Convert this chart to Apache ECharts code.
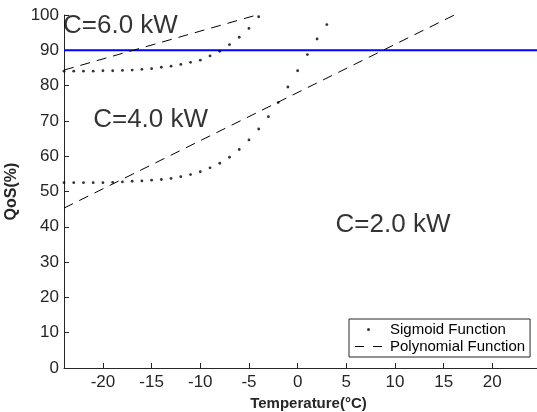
<!DOCTYPE html>
<html>
<head>
<meta charset="utf-8">
<script src="https://cdn.jsdelivr.net/npm/echarts@6/dist/echarts.min.js"></script>
<style>
  html, body { margin: 0; padding: 0; background: #fff; }
  #chart { width: 537px; height: 412px; }
</style>
</head>
<body>
<div id="chart"></div>
<script>
// Temperature axis (°C) and QoS tick labels
const xTicks = [-20, -15, -10, -5, 0, 5, 10, 15, 20];
const yTicks = [0, 10, 20, 30, 40, 50, 60, 70, 80, 90, 100];

// Sigmoid fit, C = 6.0 kW: temperature -> QoS (%)
const sigTemp6 = [-24, -23, -22, -21, -20, -19, -18, -17, -16, -15, -14, -13, -12, -11, -10, -9, -8, -7, -6, -5, -4];
const sigQoS6 = [84.1, 84.1, 84.1, 84.1, 84.2, 84.2, 84.3, 84.4, 84.6, 84.8, 85.2, 85.5, 86.0, 86.6, 87.2, 88.4, 89.7, 91.6, 93.7, 96.2, 99.5];

// Sigmoid fit, C = 4.0 kW
const sigTemp4 = [-24, -23, -22, -21, -20, -19, -18, -17, -16, -15, -14, -13, -12, -11, -10, -9, -8, -7, -6, -5, -4, -3, -2, -1, 0, 1, 2, 3];
const sigQoS4 = [52.5, 52.5, 52.5, 52.5, 52.5, 52.6, 52.7, 52.9, 53.0, 53.2, 53.4, 53.7, 54.2, 54.8, 55.6, 56.7, 58.0, 59.7, 61.9, 64.6, 67.7, 71.2, 75.2, 79.6, 84.2, 88.8, 93.2, 97.3];

// Polynomial fits (end points of each fitted segment)
const polyTemp6 = [-24, -4.2];
const polyQoS6 = [84.4, 100];
const polyTemp4 = [-24, 16.1];
const polyQoS4 = [45.3, 100];

// QoS requirement
const qosTarget = 90;
const targetSpan = [-24, 25];

// Capacity annotations (anchored at the left edge of each label)
const capLabels = ['C=6.0 kW', 'C=4.0 kW', 'C=2.0 kW'];
const capTemp = [-24.1, -21.0, 3.9];
const capQoS = [96.8, 70.2, 40.5];

const zip = (xs, ys) => xs.map((x, i) => [x, ys[i]]);

const axisColor = '#262626';
const fontFamily = 'Liberation Sans, Arial, sans-serif';
const tickFont = { fontFamily: fontFamily, fontSize: 17, color: axisColor };

const chart = echarts.init(document.getElementById('chart'), null, { renderer: 'canvas' });

chart.setOption({
  animation: false,
  backgroundColor: '#ffffff',
  grid: { left: 64, top: 15, right: -4, bottom: 44, containLabel: false, outerBoundsMode: 'none' },
  legend: {
    orient: 'vertical',
    left: 349,
    top: 319,
    data: [
      { name: 'Sigmoid Function', icon: 'circle' },
      { name: 'Polynomial Function', icon: 'path://M0,0 H9 V1 H0 Z M18,0 H27 V1 H18 Z' }
    ],
    itemWidth: 27,
    itemHeight: 3,
    itemGap: 2,
    padding: [3, 5, 3, 6],
    borderColor: axisColor,
    borderWidth: 1,
    backgroundColor: '#ffffff',
    selectedMode: false,
    textStyle: { fontFamily: fontFamily, fontSize: 15, color: '#000', padding: [0, 0, 0, 3] }
  },
  xAxis: {
    type: 'value',
    min: -24,
    max: 25,
    name: 'Temperature(°C)',
    nameLocation: 'middle',
    nameGap: 23,
    nameTextStyle: { fontFamily: fontFamily, fontSize: 15, fontWeight: 'bold', color: axisColor, padding: [0, 0, 0, 12] },
    axisLine: { show: true, onZero: false, lineStyle: { color: axisColor, width: 1 } },
    axisTick: { show: true, inside: true, length: 5, customValues: xTicks, lineStyle: { color: axisColor } },
    axisLabel: Object.assign({ margin: 6, customValues: xTicks }, tickFont),
    splitLine: { show: false }
  },
  yAxis: {
    type: 'value',
    min: yTicks[0],
    max: yTicks[yTicks.length - 1],
    interval: 10,
    name: 'QoS(%)',
    nameLocation: 'middle',
    nameGap: 40,
    nameTextStyle: { fontFamily: fontFamily, fontSize: 16, fontWeight: 'bold', color: axisColor },
    axisLine: { show: true, onZero: false, lineStyle: { color: axisColor, width: 1 } },
    axisTick: { show: true, inside: true, length: 5, lineStyle: { color: axisColor } },
    axisLabel: Object.assign({ margin: 5 }, tickFont),
    splitLine: { show: false }
  },
  series: [
    {
      name: 'QoS target',
      type: 'line',
      data: targetSpan.map(t => [t, qosTarget]),
      symbol: 'none',
      lineStyle: { color: '#0000ff', width: 2 },
      z: 1
    },
    {
      name: 'Polynomial Function',
      type: 'line',
      data: zip(polyTemp6, polyQoS6),
      symbol: 'none',
      color: '#000',
      itemStyle: { color: '#000' },
      lineStyle: { color: '#000', width: 1, type: [10, 7] },
      z: 2
    },
    {
      name: 'Polynomial Function',
      type: 'line',
      data: zip(polyTemp4, polyQoS4),
      symbol: 'none',
      color: '#000',
      itemStyle: { color: '#000' },
      lineStyle: { color: '#000', width: 1, type: [10, 7] },
      z: 2
    },
    {
      name: 'Sigmoid Function',
      type: 'scatter',
      data: zip(sigTemp6, sigQoS6),
      symbol: 'circle',
      symbolSize: 2.8,
      itemStyle: { color: '#000' },
      z: 3
    },
    {
      name: 'Sigmoid Function',
      type: 'scatter',
      data: zip(sigTemp4, sigQoS4),
      symbol: 'circle',
      symbolSize: 2.8,
      itemStyle: { color: '#000' },
      z: 3
    },
    {
      name: 'capacity labels',
      type: 'scatter',
      clip: false,
      silent: true,
      symbolSize: 0,
      data: capLabels.map((t, i) => ({ value: [capTemp[i], capQoS[i]], label: { formatter: t } })),
      label: {
        show: true,
        position: 'inside',
        align: 'left',
        verticalAlign: 'middle',
        fontFamily: fontFamily,
        fontSize: 26,
        color: '#000'
      },
      z: 4
    }
  ]
});
</script>
</body>
</html>
